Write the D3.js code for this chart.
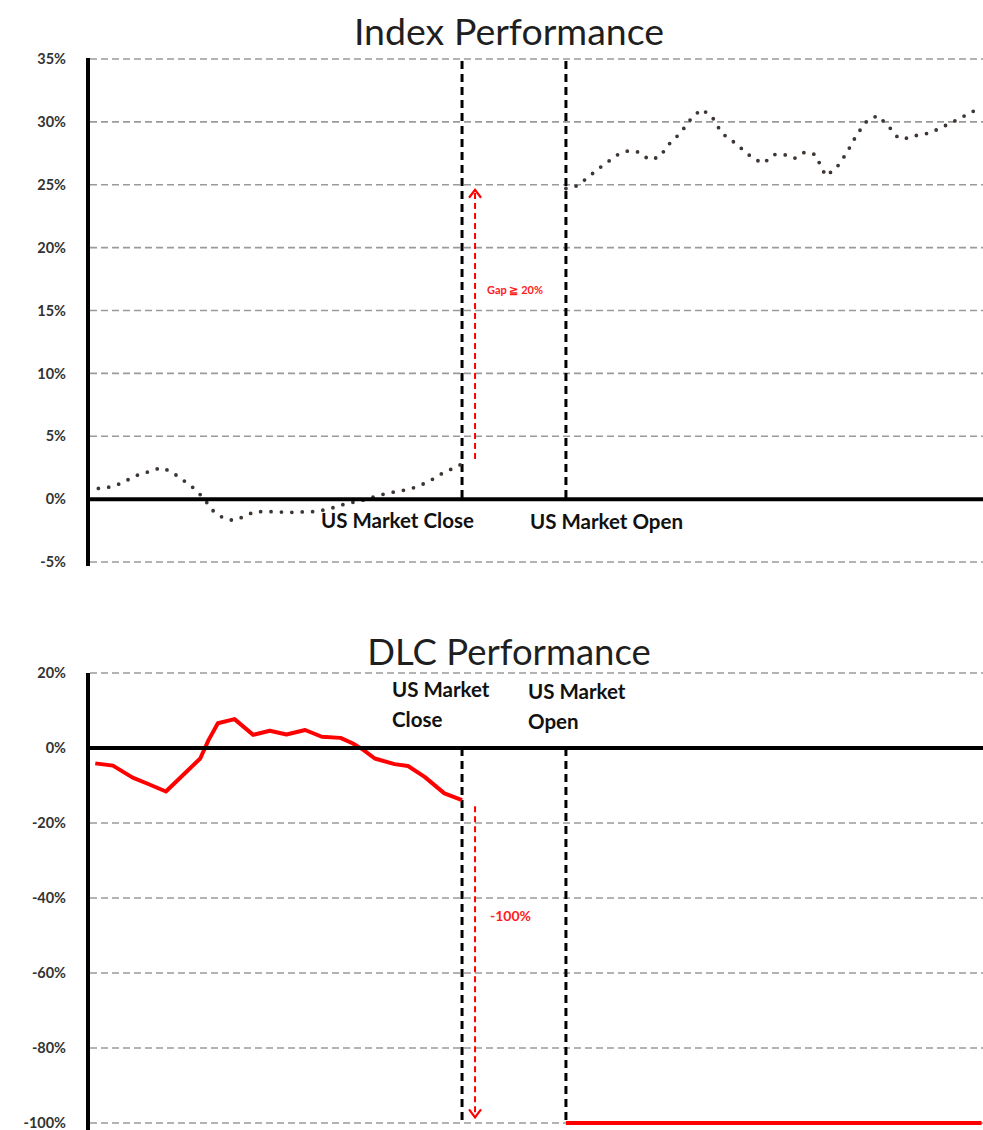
<!DOCTYPE html>
<html>
<head>
<meta charset="utf-8">
<script src="https://cdn.jsdelivr.net/npm/d3@7"></script>
<style>
  html, body { margin: 0; padding: 0; background: #fff; }
  svg { display: block; }
  text { font-family: Lato, "Open Sans", sans-serif; }
</style>
</head>
<body>
<svg id="chart" width="983" height="1130"></svg>
<script>
// ---------- DATA ----------
// time steps (trading intervals); close at step 36, open at step 46
const closeStep = 36;
const openStep = 46;
const lastStep = 86;

// Index performance (%), before US close
const indexPreTimes = d3.range(0, 37);
const indexPreValues = [0.8, 0.85, 0.95, 1.2, 1.6, 2.0, 2.2, 2.5, 2.2, 1.6,
  1.0, 0.2, -0.9, -1.5, -1.7, -1.4, -1.0, -1.0, -1.0, -1.05,
  -1.05, -1.0, -1.0, -0.8, -0.6, -0.3, -0.2, 0.05, 0.3, 0.5,
  0.65, 0.8, 1.1, 1.5, 2.0, 2.4, 2.8];

// Index performance (%), after US open
const indexPostTimes = d3.range(46, 87);
const indexPostValues = [24.7, 24.9, 25.5, 26.2, 26.8, 27.4, 27.7, 27.6, 27.0, 27.2,
  28.3, 29.1, 30.2, 31.0, 30.5, 29.1, 28.5, 27.8, 27.1, 26.7,
  27.4, 27.4, 27.1, 27.6, 27.4, 25.7, 26.3, 27.5, 29.0, 30.1,
  30.5, 29.7, 28.7, 28.7, 29.0, 29.1, 29.5, 29.9, 30.3, 30.8, 31.0];

// DLC performance (%), before US close
const dlcPreTimes = [0.7, 2.4, 4.3, 5.8, 7.5, 9.0, 10.8, 11.6, 12.5, 14.1,
  15.9, 17.5, 19.1, 20.9, 22.5, 24.3, 25.5, 26.5, 27.6, 29.5,
  30.8, 32.4, 34.3, 36];
const dlcPreValues = [-4.1, -4.7, -7.9, -9.6, -11.6, -7.6, -2.8, 2.1, 6.6, 7.7,
  3.5, 4.6, 3.6, 4.8, 3.0, 2.7, 1.2, -0.5, -2.8, -4.3,
  -4.8, -7.7, -12.1, -13.9];

// DLC after US open: wiped out
const dlcPostTimes = [46, 86];
const dlcPostValues = [-100, -100];

const indexTicks = [35, 30, 25, 20, 15, 10, 5, 0, -5];
const dlcTicks = [20, 0, -20, -40, -60, -80, -100];

const gapLabel = "Gap \u2267 20%";
const dropLabel = "-100%";

// ---------- LAYOUT ----------
const svg = d3.select("#chart");
const xLeft = 88, xRight = 983;
const x = d3.scaleLinear().domain([0, lastStep]).range([xLeft, xLeft + 10.39 * lastStep]);

const yTop = d3.scaleLinear().domain([-5, 35]).range([562, 59]);
const yBot = d3.scaleLinear().domain([-100, 20]).range([1123, 673]);

const gridColor = "#9a9a9a";
const labelColor = "#333";

function drawPanel(y, ticks, title, titleY, titleSize) {
  const g = svg.append("g");
  g.selectAll("line.grid").data(ticks.filter(t => t !== 0)).enter().append("line")
    .attr("x1", xLeft + 2).attr("x2", xRight)
    .attr("y1", d => y(d)).attr("y2", d => y(d))
    .attr("stroke", gridColor).attr("stroke-width", 1.6)
    .attr("stroke-dasharray", "7,4");
  const axis = d3.axisLeft(y).tickValues(ticks).tickSize(0).tickPadding(0)
    .tickFormat(d => d + "%");
  const ag = g.append("g").attr("transform", `translate(${xLeft - 22},0)`).call(axis);
  ag.select(".domain").remove();
  ag.selectAll("text").attr("font-size", 14.5).attr("font-weight", "bold")
    .attr("fill", labelColor).attr("font-family", "Lato, sans-serif");
  g.append("text").attr("x", 509).attr("y", titleY).attr("text-anchor", "middle")
    .attr("font-size", titleSize).attr("fill", "#1f1f1f").text(title);
  return g;
}

const gTop = drawPanel(yTop, indexTicks, "Index Performance", 45, 37.5);
const gBot = drawPanel(yBot, dlcTicks, "DLC Performance", 665, 36.5);

function eventLine(g, y1, y2) {
  [closeStep, openStep].forEach(s => {
    g.append("line").attr("x1", x(s)).attr("x2", x(s))
      .attr("y1", y1).attr("y2", y2)
      .attr("stroke", "#000").attr("stroke-width", 3)
      .attr("stroke-dasharray", "8,5");
  });
}
eventLine(gTop, yTop(35) + 2, yTop(0));
eventLine(gBot, yBot(0), yBot(-100));

function axes(g, y, yTopPx, yBotPx) {
  g.append("line").attr("x1", xLeft).attr("x2", xRight)
    .attr("y1", y(0)).attr("y2", y(0))
    .attr("stroke", "#000").attr("stroke-width", 4);
  g.append("line").attr("x1", xLeft).attr("x2", xLeft)
    .attr("y1", yTopPx).attr("y2", yBotPx)
    .attr("stroke", "#000").attr("stroke-width", 4);
}

// index series (dotted)
const lineTop = d3.line().x(d => x(d[0])).y(d => yTop(d[1]));
[[indexPreTimes, indexPreValues], [indexPostTimes, indexPostValues]].forEach(([t, v]) => {
  gTop.append("path").datum(d3.zip(t, v)).attr("d", lineTop)
    .attr("fill", "none").attr("stroke", "#3d3632").attr("stroke-width", 3.8)
    .attr("stroke-linecap", "round").attr("stroke-dasharray", "0,10.4");
});
axes(gTop, yTop, 58, 566);

// DLC series (solid red)
const lineBot = d3.line().x(d => x(d[0])).y(d => yBot(d[1]));
[[dlcPreTimes, dlcPreValues], [dlcPostTimes, dlcPostValues]].forEach(([t, v]) => {
  gBot.append("path").datum(d3.zip(t, v)).attr("d", lineBot)
    .attr("fill", "none").attr("stroke", "#ff0000").attr("stroke-width", 4)
    .attr("stroke-linejoin", "round");
});
axes(gBot, yBot, 673, 1130);

function label(g, txt, lx, ly) {
  g.append("text").attr("x", lx).attr("y", ly).attr("font-size", 20.5)
    .attr("font-weight", "bold").attr("fill", "#111").text(txt);
}
label(gTop, "US Market Close", 321, 528);
label(gTop, "US Market Open", 530, 529);
label(gBot, "US Market", 392, 697);
label(gBot, "Close", 392, 727);
label(gBot, "US Market", 528, 699);
label(gBot, "Open", 528, 729);

const arrowX = x(closeStep) + 13;
function arrow(g, y1, y2, dir) {
  g.append("line").attr("x1", arrowX).attr("x2", arrowX).attr("y1", y1).attr("y2", y2)
    .attr("stroke", "#ff0000").attr("stroke-width", 2).attr("stroke-dasharray", "6,4");
  const h = 8 * dir;
  g.append("path")
    .attr("d", `M${arrowX - 6},${y2 + h} L${arrowX},${y2} L${arrowX + 6},${y2 + h}`)
    .attr("fill", "none").attr("stroke", "#ff0000").attr("stroke-width", 2.2);
}
arrow(gTop, yTop(3.2), yTop(24.6), 1);
arrow(gBot, yBot(-15.5), yBot(-98.5), -1);

gTop.append("text").attr("x", 487).attr("y", 294).attr("font-size", 11)
  .attr("font-weight", "bold").attr("fill", "#ff2020").text(gapLabel);
gBot.append("text").attr("x", 490).attr("y", 921).attr("font-size", 14)
  .attr("font-weight", "bold").attr("fill", "#ff2020").text(dropLabel);
</script>
</body>
</html>
